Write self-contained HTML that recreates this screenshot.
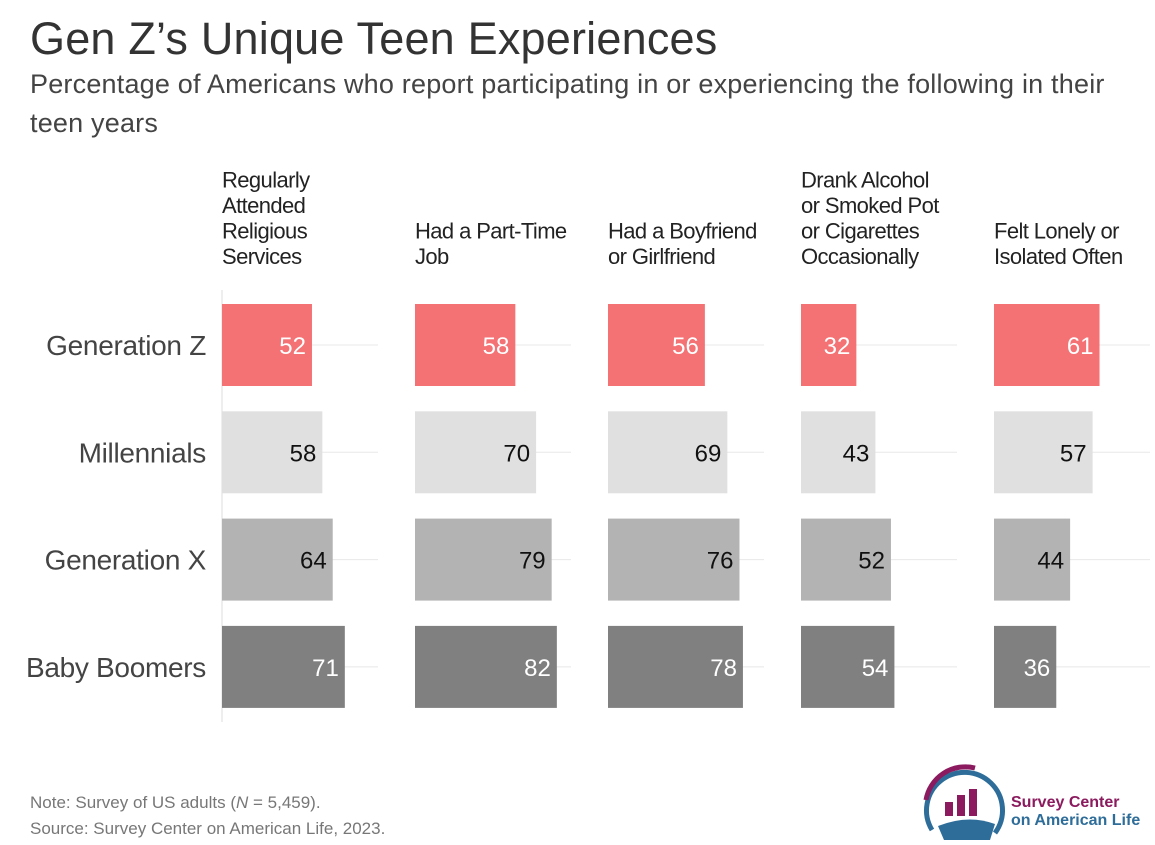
<!DOCTYPE html>
<html><head><meta charset="utf-8"><style>
body{margin:0;background:#fff;width:1155px;height:840px;overflow:hidden;font-family:"Liberation Sans",sans-serif;}
</style></head><body>
<svg id="chart" width="1155" height="840" xmlns="http://www.w3.org/2000/svg">
<text x="30" y="54" font-size="45" fill="#333" letter-spacing="0.2">Gen Z’s Unique Teen Experiences</text>
<text x="30" y="93" font-size="27" fill="#444" letter-spacing="0.2">Percentage of Americans who report participating in or experiencing the following in their</text>
<text x="30" y="132" font-size="27" fill="#444" letter-spacing="0.2">teen years</text>
<line x1="222" y1="290" x2="222" y2="722" stroke="#ddd" stroke-width="1"/>
<g id="plot"></g>
<text x="30" y="808" font-size="17" fill="#777">Note: Survey of US adults (<tspan font-style="italic">N</tspan> = 5,459).</text>
<text x="30" y="834" font-size="17" fill="#777">Source: Survey Center on American Life, 2023.</text>
<g>
<path d="M932 830 A38 38 0 1 1 995 833" fill="none" stroke="#2e6d99" stroke-width="5"/>
<path d="M926 800 A40 40 0 0 1 975 768" fill="none" stroke="#8b1a5e" stroke-width="5"/>
<rect x="945" y="802" width="8" height="14" fill="#8b1a5e"/>
<rect x="957" y="795" width="8" height="21" fill="#8b1a5e"/>
<rect x="969" y="789" width="8" height="27" fill="#8b1a5e"/>
<path d="M938 826 Q968 814 995 824 L990 840 L944 840 Z" fill="#2e6d99"/>
<text x="1011" y="807" font-size="16" font-weight="bold" fill="#8b1a5e">Survey Center</text>
<text x="1011" y="825" font-size="16" font-weight="bold" fill="#2e6d99">on American Life</text>
</g>
</svg>
<script>
const categories=[["Regularly","Attended","Religious","Services"],["Had a Part-Time","Job"],["Had a Boyfriend","or Girlfriend"],["Drank Alcohol","or Smoked Pot","or Cigarettes","Occasionally"],["Felt Lonely or","Isolated Often"]];
const generations=["Generation Z","Millennials","Generation X","Baby Boomers"];
const genZ=[52,58,56,32,61];
const millennials=[58,70,69,43,57];
const genX=[64,79,76,52,44];
const boomers=[71,82,78,54,36];
const series=[genZ,millennials,genX,boomers];
const colors=["#f47174","#e0e0e0","#b3b3b3","#808080"];
const textColors=["#fff","#111","#111","#fff"];
const NS="http://www.w3.org/2000/svg";
const plot=document.getElementById("plot");
const panelX=i=>222+i*193;
const xs=v=>v*1.73;
const rowY=j=>345+j*107.3;
function mk(t,a){const e=document.createElementNS(NS,t);for(const k in a)e.setAttribute(k,a[k]);plot.appendChild(e);return e;}
generations.forEach((g,j)=>{
  const t=mk("text",{x:206,y:rowY(j)+10,"font-size":28,fill:"#444","text-anchor":"end","letter-spacing":"-0.3"});
  t.textContent=g;
  
  
});
categories.forEach((c,i)=>{
  const px=panelX(i);
  c.forEach((line,k)=>{
    const t=mk("text",{x:px,y:264-(c.length-1-k)*25.5,"font-size":22,fill:"#222","letter-spacing":"-0.6"});
    t.textContent=line;
    
    
  });
  generations.forEach((g,j)=>{
    const y=rowY(j);
    const gl=mk("line",{x1:px,x2:px+156,y1:y,y2:y,stroke:"#e8e8e8","stroke-width":1});
    
    
    const v=series[j][i];
    const r=mk("rect",{x:px,y:y-41,width:xs(v),height:82,fill:colors[j]});
    
    
    const t=mk("text",{x:px+xs(v)-6,y:y+9,"font-size":24,fill:textColors[j],"text-anchor":"end"});
    t.textContent=v;
    
    
  });
});
</script>
</body></html>
